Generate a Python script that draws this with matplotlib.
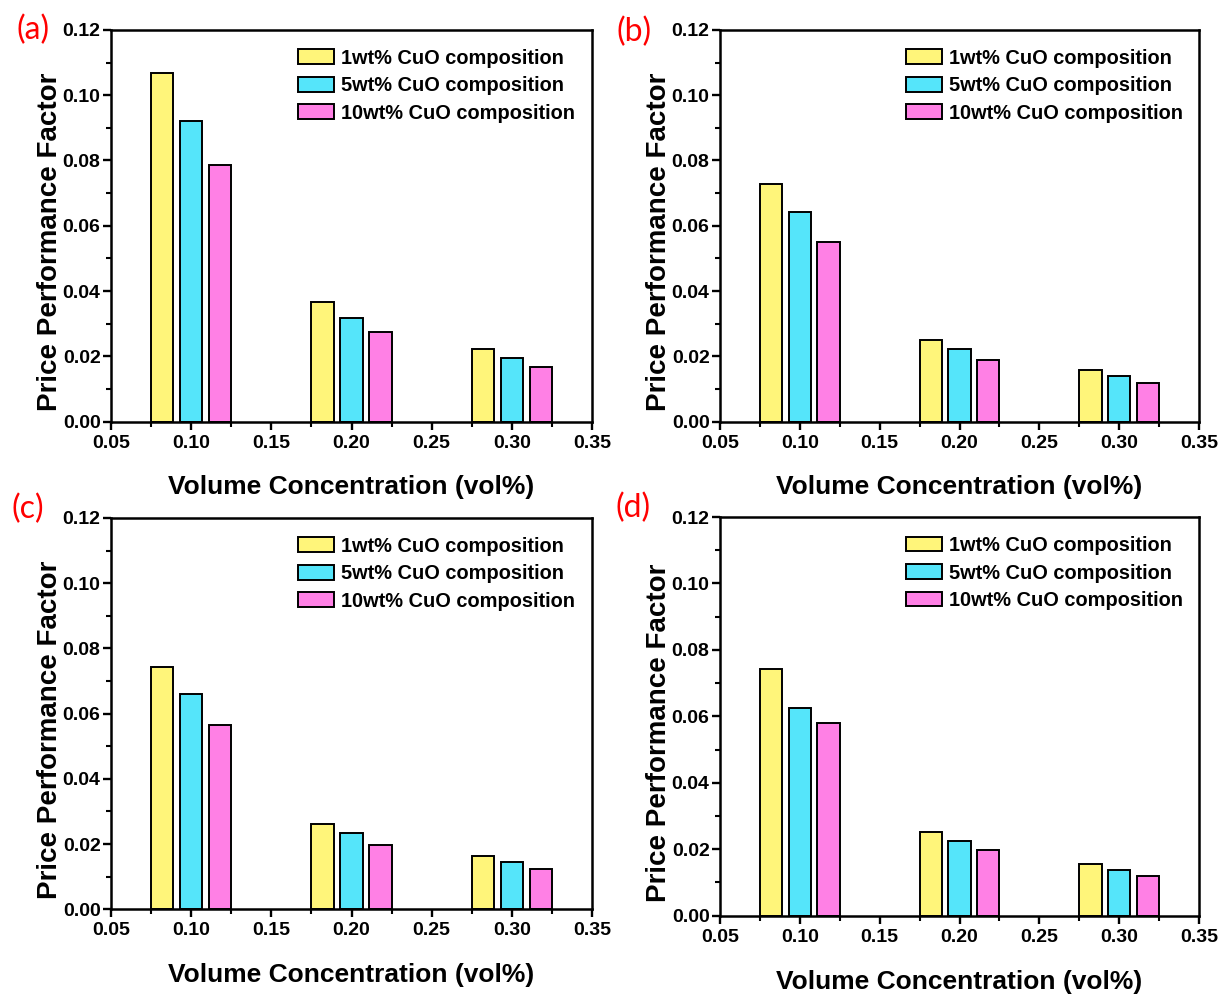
import matplotlib
matplotlib.use("Agg")
import matplotlib.pyplot as plt
import numpy as np
from matplotlib.ticker import MultipleLocator

plt.rcParams['font.family'] = ['Liberation Sans', 'DejaVu Sans']
plt.rcParams['font.weight'] = 'bold'

concentrations = [0.10, 0.20, 0.30]
series_labels = ["1wt% CuO composition", "5wt% CuO composition", "10wt% CuO composition"]

# values per panel and series, at concentrations 0.10, 0.20, 0.30
a_1wt = [0.1069, 0.0365, 0.0221]
a_5wt = [0.0921, 0.0317, 0.0194]
a_10wt = [0.0785, 0.0274, 0.0167]

b_1wt = [0.0727, 0.0250, 0.0157]
b_5wt = [0.0643, 0.0223, 0.0138]
b_10wt = [0.0550, 0.0190, 0.0119]

c_1wt = [0.0744, 0.0263, 0.0163]
c_5wt = [0.0661, 0.0234, 0.0144]
c_10wt = [0.0564, 0.0197, 0.0124]

d_1wt = [0.0742, 0.0252, 0.0156]
d_5wt = [0.0625, 0.0225, 0.0137]
d_10wt = [0.0580, 0.0198, 0.0118]

panel_letters = ["(a)", "(b)", "(c)", "(d)"]
x_ticks = [0.05, 0.10, 0.15, 0.20, 0.25, 0.30, 0.35]
y_ticks = [0.00, 0.02, 0.04, 0.06, 0.08, 0.10, 0.12]

colors = ["#FFF57A", "#55E5FA", "#FF80E5"]

W, H = 1221, 994
fig = plt.figure(figsize=(W / 100, H / 100), dpi=100)

def px_axes(left, top, right, bottom):
    return fig.add_axes([left / W, 1 - bottom / H, (right - left) / W, (bottom - top) / H])

boxes = [(111, 30, 592, 421.5), (720, 30, 1199, 421.5), (111, 518, 592, 909.3), (720, 517, 1199, 915.7)]
label_pos = [(33, 30), (634, 32), (28, 509), (633, 508)]
data = [(a_1wt, a_5wt, a_10wt), (b_1wt, b_5wt, b_10wt), (c_1wt, c_5wt, c_10wt), (d_1wt, d_5wt, d_10wt)]

offset = 0.018
width = 0.0139
for box, lp, letter, series in zip(boxes, label_pos, panel_letters, data):
    ax = px_axes(*box)
    x = np.array(concentrations)
    for i, (vals, col, lab) in enumerate(zip(series, colors, series_labels)):
        ax.bar(x + (i - 1) * offset, vals, width=width, color=col, edgecolor='black',
               linewidth=1.4, label=lab, zorder=2)
    ax.set_xlim(0.05, 0.35)
    ax.set_ylim(0.0, 0.12)
    ax.set_xticks(x_ticks)
    ax.set_yticks(y_ticks)
    ax.set_xticklabels([f"{v:.2f}" for v in x_ticks])
    ax.set_yticklabels([f"{v:.2f}" for v in y_ticks])
    ax.xaxis.set_minor_locator(MultipleLocator(0.025))
    ax.yaxis.set_minor_locator(MultipleLocator(0.01))
    ax.tick_params(which='major', direction='out', length=5.5, width=1.7, labelsize=14)
    ax.tick_params(axis='x', which='major', pad=4)
    ax.tick_params(axis='y', which='major', pad=2)
    ax.tick_params(which='minor', direction='out', length=3.5, width=1.5)
    for sp in ax.spines.values():
        sp.set_linewidth(1.8)
    ax.set_xlabel("Volume Concentration (vol%)", fontsize=19, fontweight='bold', labelpad=17)
    ax.set_ylabel("Price Performance Factor", fontsize=20, fontweight='bold')
    ax.yaxis.set_label_coords(-0.100, 0.458)
    ax.legend(loc='upper left', frameon=False, handlelength=1.8,
              handleheight=0.75, handletextpad=0.35, labelspacing=0.42,
              borderpad=0, borderaxespad=0,
              bbox_to_anchor=(0.389, 0.952), prop={'weight': 'bold', 'size': 14.4})
    fig.text(lp[0] / W, 1 - lp[1] / H, letter, color='red', fontsize=23,
             fontweight='normal', family=['Lato', 'DejaVu Sans'], ha='center', va='center')

fig.savefig("out.png", dpi=100)
